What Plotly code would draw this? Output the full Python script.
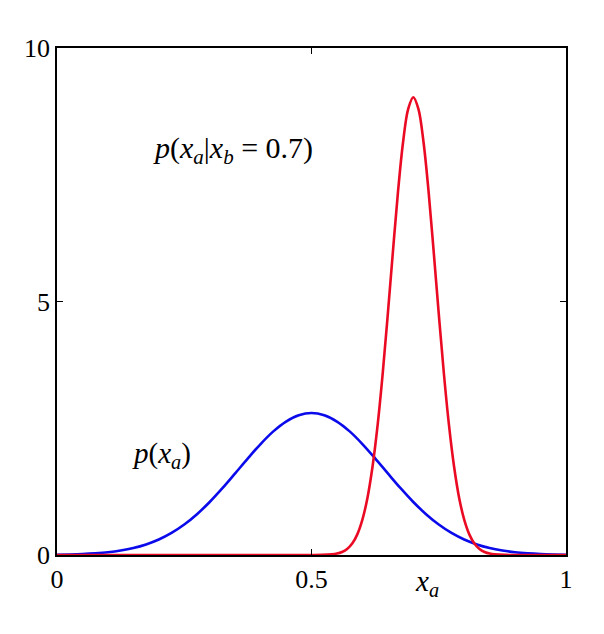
import plotly.graph_objects as go

# marginal p(x_a)
xa_marg = [0.0, 0.025, 0.05, 0.075, 0.1, 0.125, 0.15, 0.175, 0.2, 0.225, 0.25, 0.275,
           0.3, 0.325, 0.35, 0.375, 0.4, 0.425, 0.45, 0.475, 0.5, 0.525, 0.55, 0.575,
           0.6, 0.625, 0.65, 0.675, 0.7, 0.725, 0.75, 0.775, 0.8, 0.825, 0.85, 0.875,
           0.9, 0.925, 0.95, 0.975, 1.0]
p_marg = [0.006, 0.011, 0.019, 0.033, 0.054, 0.088, 0.137, 0.208, 0.305, 0.435, 0.601, 0.805,
          1.045, 1.317, 1.609, 1.906, 2.189, 2.438, 2.632, 2.757, 2.80, 2.757, 2.632, 2.438,
          2.189, 1.906, 1.609, 1.317, 1.045, 0.805, 0.601, 0.435, 0.305, 0.208, 0.137, 0.088,
          0.054, 0.033, 0.019, 0.011, 0.006]

# conditional p(x_a | x_b = 0.7)
xa_cond = [0.0, 0.2, 0.4, 0.5, 0.52, 0.54, 0.55, 0.56, 0.57, 0.58, 0.59, 0.6, 0.61, 0.62,
           0.63, 0.64, 0.65, 0.66, 0.67, 0.68, 0.69, 0.7, 0.71, 0.72, 0.73, 0.74, 0.75,
           0.76, 0.77, 0.78, 0.79, 0.8, 0.81, 0.82, 0.83, 0.84, 0.85, 0.86, 0.88, 0.9,
           1.0]
p_cond = [0.0, 0.0, 0.0, 0.0, 0.002, 0.013, 0.028, 0.060, 0.119, 0.226, 0.407, 0.697, 1.13,
          1.75, 2.57, 3.59, 4.76, 5.99, 7.17, 8.15, 8.80, 9.03, 8.80, 8.15, 7.17, 5.99, 4.76,
          3.59, 2.57, 1.75, 1.13, 0.697, 0.407, 0.226, 0.119, 0.060, 0.028, 0.013, 0.002, 0.0,
          0.0]

x_ticks = [0, 0.5, 1]
x_tick_text = ["0", "0.5", "1"]
y_ticks = [0, 5, 10]

serif = "Times New Roman"

fig = go.Figure()
fig.add_trace(go.Scatter(x=xa_marg, y=p_marg, mode="lines",
                         line=dict(color="rgb(10,10,235)", width=2.6, shape="spline")))
fig.add_trace(go.Scatter(x=xa_cond, y=p_cond, mode="lines",
                         line=dict(color="rgb(235,10,35)", width=2.6, shape="spline")))

#Labels
fig.add_annotation(x=0.346, y=7.99, showarrow=False,
                   text="<i>p</i>(<i>x</i><sub><i>a</i></sub>|<i>x</i><sub><i>b</i></sub> = 0.7)",
                   font=dict(family=serif, size=30, color="black"))
fig.add_annotation(x=0.206, y=1.97, showarrow=False,
                   text="<i>p</i>(<i>x</i><sub><i>a</i></sub>)",
                   font=dict(family=serif, size=29, color="black"))
# axis label sits off-centre, below the ticks
fig.add_annotation(x=0.727, y=-0.055, xref="x", yref="paper", showarrow=False,
                   yanchor="middle", text="<i>x</i><sub><i>a</i></sub>",
                   font=dict(family=serif, size=29, color="black"))

axis_style = dict(showgrid=False, zeroline=False, showline=True, mirror="ticks",
                  linecolor="black", linewidth=1.6, ticks="inside", ticklen=6,
                  tickcolor="black", tickwidth=1.4,
                  tickfont=dict(family=serif, size=26, color="black"))

fig.update_xaxes(range=[0, 1], tickvals=x_ticks, ticktext=x_tick_text, **axis_style)
fig.update_yaxes(range=[0, 10], tickvals=y_ticks, **axis_style)

# page adds ~8px body margin, so shift the plot box back
fig.update_layout(width=604, height=634, showlegend=False,
                  plot_bgcolor="white", paper_bgcolor="white",
                  margin=dict(l=49, r=46, t=40, b=87))

fig.write_html("out.html")
